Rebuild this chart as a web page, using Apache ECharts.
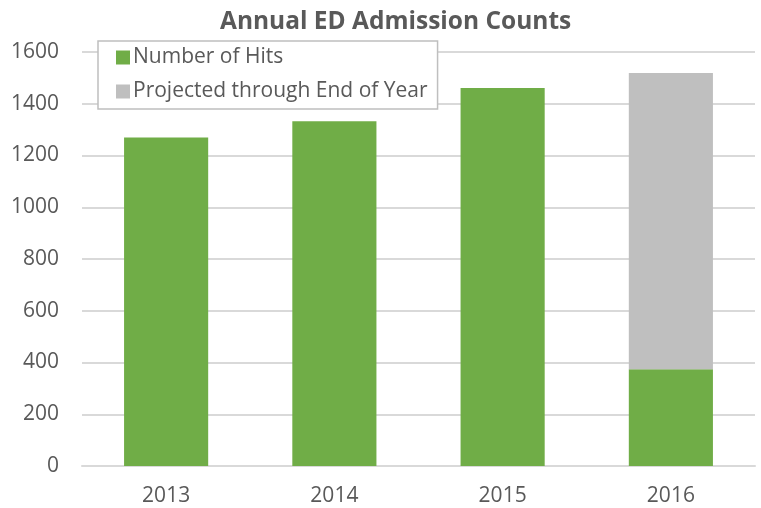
<!DOCTYPE html>
<html>
<head>
<meta charset="utf-8">
<script src="https://cdn.jsdelivr.net/npm/echarts@6/dist/echarts.min.js"></script>
<style>html,body{margin:0;padding:0;background:#fff}#c{width:761px;height:508px}</style>
</head>
<body>
<div id="c"></div>
<script>
var categories = ['2013', '2014', '2015', '2016'];
var hits = [1270, 1332, 1461, 374];
var projected = ['-', '-', '-', 1145];
var yTicks = [0, 200, 400, 600, 800, 1000, 1200, 1400, 1600];

var FONT = 'Open Sans';
var chart = echarts.init(document.getElementById('c'), null, {renderer: 'canvas'});
chart.setOption({
  animation: false,
  title: {
    text: 'Annual ED Admission Counts',
    left: 215,
    top: 5,
    textStyle: {fontFamily: FONT, fontSize: 24.5, fontWeight: 'bold', color: '#595959'}
  },
  legend: {
    orient: 'vertical',
    left: 98,
    top: 41,
    padding: [6, 10, 7, 18],
    itemGap: 13,
    itemWidth: 14,
    itemHeight: 14,
    icon: 'rect',
    backgroundColor: '#fff',
    borderColor: '#bfbfbf',
    borderWidth: 1.5,
    textStyle: {fontFamily: FONT, fontSize: 21, color: '#595959', lineHeight: 20, padding: [0, 0, 0, -2]},
    data: ['Number of Hits', 'Projected through End of Year']
  },
  grid: {left: 82, right: 6, top: 52, bottom: 42, containLabel: false},
  xAxis: {
    type: 'category',
    data: categories,
    axisLine: {show: true, lineStyle: {color: '#d9d9d9', width: 2}},
    axisTick: {show: false},
    axisLabel: {fontFamily: FONT, fontSize: 21, color: '#595959', margin: 20}
  },
  yAxis: {
    type: 'value',
    min: yTicks[0],
    max: yTicks[yTicks.length - 1],
    interval: 200,
    axisLine: {show: false},
    axisTick: {show: false},
    splitLine: {lineStyle: {color: '#d9d9d9', width: 2}},
    axisLabel: {fontFamily: FONT, fontSize: 21, color: '#595959', margin: 23, formatter: function (v) { return String(v); }}
  },
  series: [
    {name: 'Number of Hits', type: 'bar', stack: 'a', data: hits, barWidth: '50%', itemStyle: {color: '#70ad47'}, z: 3},
    {name: 'Projected through End of Year', type: 'bar', stack: 'a', data: projected, barWidth: '50%', itemStyle: {color: '#bfbfbf'}, z: 3}
  ]
});
</script>
</body>
</html>
